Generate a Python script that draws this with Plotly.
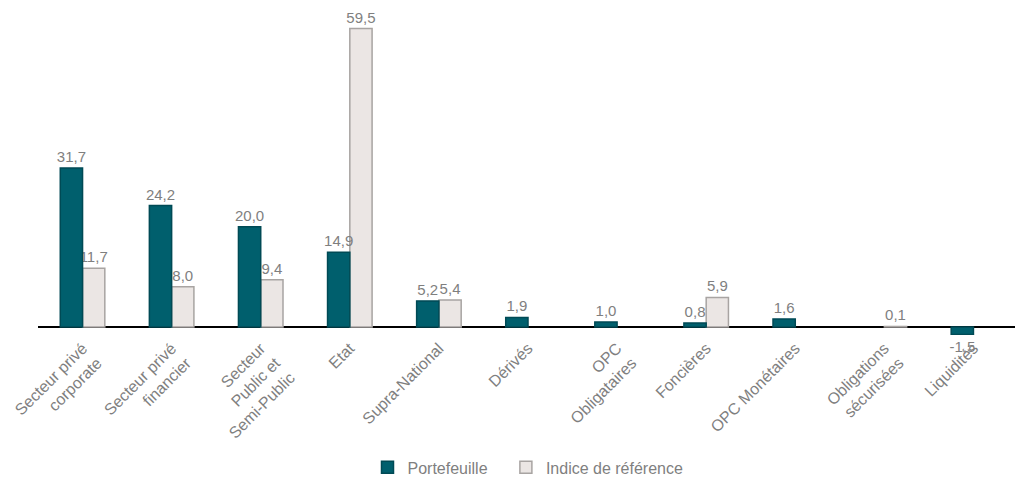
import plotly.graph_objects as go

categories = [
    "Secteur privé<br>corporate",
    "Secteur privé<br>financier",
    "Secteur<br>Public et<br>Semi-Public",
    "Etat",
    "Supra-National",
    "Dérivés",
    "OPC<br>Obligataires",
    "Foncières",
    "OPC Monétaires",
    "Obligations<br>sécurisées",
    "Liquidités",
]
portefeuille = [31.7, 24.2, 20.0, 14.9, 5.2, 1.9, 1.0, 0.8, 1.6, None, -1.5]
indice = [11.7, 8.0, 9.4, 59.5, 5.4, None, None, 5.9, None, 0.1, None]

grey_text = "#7f7f7f"
font_family = "Liberation Sans, Arial, sans-serif"
val_font = dict(color=grey_text, size=15, family=font_family)

fig = go.Figure()
# reference index drawn first so the portfolio labels sit on top of it
fig.add_trace(go.Bar(
    x=categories, y=indice, name="Indice de référence", legendrank=2,
    offset=0.0, width=0.25,
    marker=dict(color="#ebe6e4", line=dict(color="#a8a4a2", width=1.5)),
    texttemplate="%{y:.1f}", textposition="outside",
    textfont=val_font, outsidetextfont=val_font, constraintext="none",
    cliponaxis=False,
))
fig.add_trace(go.Bar(
    x=categories, y=portefeuille, name="Portefeuille\u00a0\u00a0\u00a0", legendrank=1,
    offset=-0.25, width=0.25,
    marker=dict(color="#005f6d", line=dict(color="#004a55", width=1.5)),
    texttemplate="%{y:.1f}", textposition="outside",
    textfont=val_font, outsidetextfont=val_font, constraintext="none",
    cliponaxis=False,
))

fig.update_layout(
    width=1015, height=472,
    barmode="overlay",
    separators=", ",
    plot_bgcolor="white", paper_bgcolor="white",
    margin=dict(l=30, r=5, t=8, b=145, autoexpand=False),
    font=dict(family=font_family, color=grey_text, size=16),
    showlegend=True,
    legend=dict(orientation="h", x=0.5, xanchor="center", y=-0.415, yanchor="middle",
                font=dict(size=16, color=grey_text, family=font_family)),
    xaxis=dict(tickangle=-45, tickfont=dict(size=16, color=grey_text, family=font_family),
               showline=False, showgrid=False, ticks="", automargin=False),
    yaxis=dict(range=[-1.6, 62], visible=True, showticklabels=False, showgrid=False,
               zeroline=True, zerolinecolor="black", zerolinewidth=2, showline=False,
               automargin=False),
)

fig.write_html("out.html")
